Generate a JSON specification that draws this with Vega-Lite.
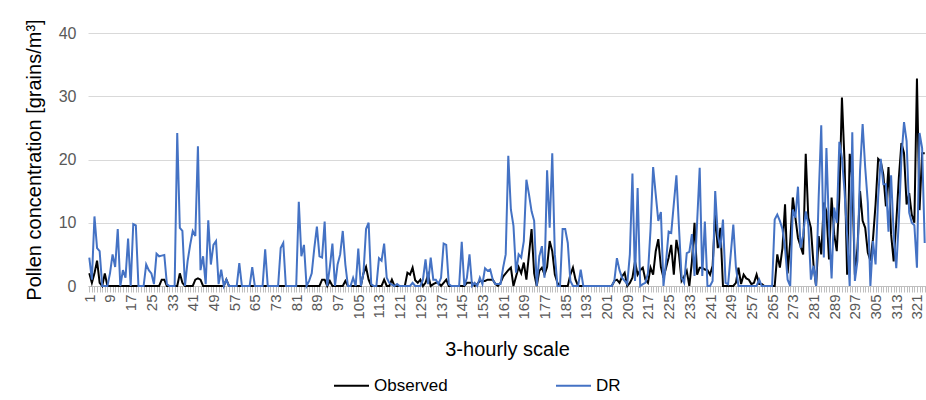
{
"$schema": "https://vega.github.io/schema/vega-lite/v6.json",
"width": 838, "height": 253,
"autosize": "none",
"padding": {"left": 88, "top": 33, "right": 0, "bottom": 114},
"config": {"font": "Liberation Sans", "view": {"stroke": null}},
"data": {"values": [
{"i":1,"Observed":2,"DR":4.5},{"i":2,"Observed":0.5,"DR":1},{"i":3,"Observed":2,"DR":11},{"i":4,"Observed":4,"DR":6},{"i":5,"Observed":0.5,"DR":5.5},{"i":6,"Observed":0,"DR":0},{"i":7,"Observed":2,"DR":0},{"i":8,"Observed":0,"DR":0},{"i":9,"Observed":0,"DR":2},{"i":10,"Observed":0,"DR":5},
{"i":11,"Observed":0,"DR":3},{"i":12,"Observed":0,"DR":9},{"i":13,"Observed":0,"DR":0},{"i":14,"Observed":0,"DR":2.5},{"i":15,"Observed":0,"DR":1.3},{"i":16,"Observed":0,"DR":7.5},{"i":17,"Observed":0,"DR":0},{"i":18,"Observed":0,"DR":9.8},{"i":19,"Observed":0,"DR":9.6},{"i":20,"Observed":0,"DR":0},
{"i":21,"Observed":0,"DR":0},{"i":22,"Observed":0,"DR":0},{"i":23,"Observed":0,"DR":3.4},{"i":24,"Observed":0,"DR":2.5},{"i":25,"Observed":0,"DR":2},{"i":26,"Observed":0,"DR":0.3},{"i":27,"Observed":0,"DR":5.1},{"i":28,"Observed":0,"DR":4.7},{"i":29,"Observed":1,"DR":4.8},{"i":30,"Observed":1,"DR":4.9},
{"i":31,"Observed":0,"DR":0.3},{"i":32,"Observed":0,"DR":0},{"i":33,"Observed":0,"DR":0},{"i":34,"Observed":0,"DR":0},{"i":35,"Observed":0,"DR":24.2},{"i":36,"Observed":2,"DR":9.2},{"i":37,"Observed":0.5,"DR":8.7},{"i":38,"Observed":0,"DR":0},{"i":39,"Observed":0,"DR":3.9},{"i":40,"Observed":0,"DR":6.5},
{"i":41,"Observed":0,"DR":8.7},{"i":42,"Observed":1,"DR":7.9},{"i":43,"Observed":1.2,"DR":22.1},{"i":44,"Observed":1,"DR":2.5},{"i":45,"Observed":0,"DR":4.7},{"i":46,"Observed":0,"DR":0.3},{"i":47,"Observed":0,"DR":10.4},{"i":48,"Observed":0,"DR":3.4},{"i":49,"Observed":0,"DR":6.5},{"i":50,"Observed":0,"DR":7.1},
{"i":51,"Observed":0,"DR":0.3},{"i":52,"Observed":0,"DR":2.6},{"i":53,"Observed":0,"DR":0},{"i":54,"Observed":1,"DR":1},{"i":55,"Observed":0,"DR":0},{"i":56,"Observed":0,"DR":0},{"i":57,"Observed":0,"DR":0},{"i":58,"Observed":0,"DR":0},{"i":59,"Observed":0,"DR":3.6},{"i":60,"Observed":0,"DR":0},
{"i":61,"Observed":0,"DR":0},{"i":62,"Observed":0,"DR":0},{"i":63,"Observed":0,"DR":0},{"i":64,"Observed":0,"DR":3},{"i":65,"Observed":0,"DR":0},{"i":66,"Observed":0,"DR":0},{"i":67,"Observed":0,"DR":0},{"i":68,"Observed":0,"DR":0},{"i":69,"Observed":0,"DR":5.8},{"i":70,"Observed":0,"DR":0},
{"i":71,"Observed":0,"DR":0},{"i":72,"Observed":0,"DR":0},{"i":73,"Observed":0,"DR":0},{"i":74,"Observed":0,"DR":0},{"i":75,"Observed":0,"DR":6},{"i":76,"Observed":0,"DR":6.8},{"i":77,"Observed":0,"DR":0},{"i":78,"Observed":0,"DR":0},{"i":79,"Observed":0,"DR":0},{"i":80,"Observed":0,"DR":0},
{"i":81,"Observed":0,"DR":0},{"i":82,"Observed":0,"DR":13.3},{"i":83,"Observed":0,"DR":4.7},{"i":84,"Observed":0,"DR":6.5},{"i":85,"Observed":0,"DR":0},{"i":86,"Observed":0,"DR":0.8},{"i":87,"Observed":0,"DR":2},{"i":88,"Observed":0,"DR":6},{"i":89,"Observed":0,"DR":9.4},{"i":90,"Observed":0,"DR":4.7},
{"i":91,"Observed":1,"DR":4.5},{"i":92,"Observed":1,"DR":10.2},{"i":93,"Observed":0,"DR":0},{"i":94,"Observed":0.8,"DR":3},{"i":95,"Observed":0,"DR":6.7},{"i":96,"Observed":0,"DR":0},{"i":97,"Observed":0,"DR":3.4},{"i":98,"Observed":0,"DR":5},{"i":99,"Observed":0,"DR":8.7},{"i":100,"Observed":0.8,"DR":3.4},
{"i":101,"Observed":0,"DR":0},{"i":102,"Observed":0,"DR":0},{"i":103,"Observed":0,"DR":1.3},{"i":104,"Observed":0,"DR":0},{"i":105,"Observed":0,"DR":5.9},{"i":106,"Observed":0,"DR":0},{"i":107,"Observed":2,"DR":2},{"i":108,"Observed":3,"DR":9},{"i":109,"Observed":1,"DR":10},{"i":110,"Observed":0,"DR":0.3},
{"i":111,"Observed":0,"DR":0},{"i":112,"Observed":0,"DR":0},{"i":113,"Observed":0,"DR":4.4},{"i":114,"Observed":0,"DR":4},{"i":115,"Observed":1,"DR":6.7},{"i":116,"Observed":0,"DR":1.3},{"i":117,"Observed":0,"DR":0.5},{"i":118,"Observed":1,"DR":0.2},{"i":119,"Observed":0,"DR":0},{"i":120,"Observed":0,"DR":0.3},
{"i":121,"Observed":0,"DR":0},{"i":122,"Observed":0,"DR":0},{"i":123,"Observed":0,"DR":0},{"i":124,"Observed":2.1,"DR":0},{"i":125,"Observed":1.8,"DR":0},{"i":126,"Observed":2.9,"DR":0.5},{"i":127,"Observed":0.9,"DR":0},{"i":128,"Observed":0.5,"DR":0},{"i":129,"Observed":1,"DR":0},{"i":130,"Observed":0,"DR":1},
{"i":131,"Observed":0.5,"DR":4.2},{"i":132,"Observed":1.8,"DR":0.3},{"i":133,"Observed":0,"DR":4.5},{"i":134,"Observed":0.3,"DR":1},{"i":135,"Observed":0.5,"DR":1},{"i":136,"Observed":0.5,"DR":0.3},{"i":137,"Observed":0,"DR":1.3},{"i":138,"Observed":0.5,"DR":6.7},{"i":139,"Observed":1,"DR":6.5},{"i":140,"Observed":0,"DR":0.3},
{"i":141,"Observed":0,"DR":0},{"i":142,"Observed":0,"DR":0},{"i":143,"Observed":0,"DR":0},{"i":144,"Observed":0,"DR":0},{"i":145,"Observed":0,"DR":7},{"i":146,"Observed":0,"DR":0},{"i":147,"Observed":0.5,"DR":1.3},{"i":148,"Observed":0.5,"DR":5},{"i":149,"Observed":0.5,"DR":0},{"i":150,"Observed":0,"DR":0.5},
{"i":151,"Observed":0.3,"DR":0},{"i":152,"Observed":0.8,"DR":1.3},{"i":153,"Observed":0.8,"DR":0.3},{"i":154,"Observed":0.8,"DR":2.8},{"i":155,"Observed":1,"DR":2.4},{"i":156,"Observed":1,"DR":2.6},{"i":157,"Observed":1,"DR":1},{"i":158,"Observed":0.3,"DR":0.3},{"i":159,"Observed":0,"DR":0.3},{"i":160,"Observed":0.5,"DR":0.3},
{"i":161,"Observed":1.5,"DR":2.9},{"i":162,"Observed":2,"DR":5},{"i":163,"Observed":2.5,"DR":20.6},{"i":164,"Observed":2.9,"DR":12.1},{"i":165,"Observed":0,"DR":9.5},{"i":166,"Observed":1.5,"DR":2.1},{"i":167,"Observed":3,"DR":5},{"i":168,"Observed":2,"DR":4.5},{"i":169,"Observed":3.7,"DR":7.1},{"i":170,"Observed":1,"DR":16.8},
{"i":171,"Observed":5,"DR":14.5},{"i":172,"Observed":9,"DR":11.8},{"i":173,"Observed":2,"DR":10.3},{"i":174,"Observed":0,"DR":0},{"i":175,"Observed":2.4,"DR":4.7},{"i":176,"Observed":2.9,"DR":6.3},{"i":177,"Observed":1.8,"DR":1.3},{"i":178,"Observed":3,"DR":18.3},{"i":179,"Observed":7.1,"DR":9.2},{"i":180,"Observed":5.5,"DR":21},
{"i":181,"Observed":1.8,"DR":5},{"i":182,"Observed":0.5,"DR":0},{"i":183,"Observed":0,"DR":0},{"i":184,"Observed":0,"DR":9},{"i":185,"Observed":0,"DR":9},{"i":186,"Observed":0,"DR":6.8},{"i":187,"Observed":1.8,"DR":0.8},{"i":188,"Observed":2.9,"DR":0},{"i":189,"Observed":1,"DR":0},{"i":190,"Observed":0,"DR":0},
{"i":191,"Observed":0,"DR":2.6},{"i":192,"Observed":0,"DR":0},{"i":193,"Observed":0,"DR":0},{"i":194,"Observed":0,"DR":0},{"i":195,"Observed":0,"DR":0},{"i":196,"Observed":0,"DR":0},{"i":197,"Observed":0,"DR":0},{"i":198,"Observed":0,"DR":0},{"i":199,"Observed":0,"DR":0},{"i":200,"Observed":0,"DR":0},
{"i":201,"Observed":0,"DR":0},{"i":202,"Observed":0,"DR":0},{"i":203,"Observed":0,"DR":0},{"i":204,"Observed":0.8,"DR":0.8},{"i":205,"Observed":1,"DR":4.4},{"i":206,"Observed":0.5,"DR":2.5},{"i":207,"Observed":1.5,"DR":1.3},{"i":208,"Observed":2.1,"DR":0.8},{"i":209,"Observed":0,"DR":0.3},{"i":210,"Observed":0.5,"DR":5},
{"i":211,"Observed":1.3,"DR":17.8},{"i":212,"Observed":3.9,"DR":0.8},{"i":213,"Observed":1.8,"DR":15.5},{"i":214,"Observed":2.5,"DR":0},{"i":215,"Observed":2.9,"DR":0.3},{"i":216,"Observed":1,"DR":0.5},{"i":217,"Observed":0.5,"DR":2},{"i":218,"Observed":2.9,"DR":9},{"i":219,"Observed":1.8,"DR":18.8},{"i":220,"Observed":5.5,"DR":14.5},
{"i":221,"Observed":7.4,"DR":10.3},{"i":222,"Observed":3,"DR":11.7},{"i":223,"Observed":1.3,"DR":0},{"i":224,"Observed":2.9,"DR":3.9},{"i":225,"Observed":4.5,"DR":8.6},{"i":226,"Observed":6.5,"DR":8.4},{"i":227,"Observed":1.8,"DR":13},{"i":228,"Observed":7.3,"DR":17.5},{"i":229,"Observed":5,"DR":9.2},{"i":230,"Observed":0.8,"DR":1.3},
{"i":231,"Observed":1.5,"DR":0.5},{"i":232,"Observed":2.4,"DR":5.2},{"i":233,"Observed":0,"DR":5.4},{"i":234,"Observed":3.9,"DR":8.2},{"i":235,"Observed":10,"DR":1.6},{"i":236,"Observed":1.8,"DR":10},{"i":237,"Observed":2.9,"DR":18.7},{"i":238,"Observed":2.9,"DR":1.6},{"i":239,"Observed":2.6,"DR":10.2},{"i":240,"Observed":2.5,"DR":0},
{"i":241,"Observed":1.8,"DR":0},{"i":242,"Observed":3.2,"DR":0.8},{"i":243,"Observed":11.3,"DR":15},{"i":244,"Observed":6,"DR":8},{"i":245,"Observed":9.2,"DR":6},{"i":246,"Observed":0,"DR":10.5},{"i":247,"Observed":0,"DR":0.5},{"i":248,"Observed":0,"DR":0.3},{"i":249,"Observed":0,"DR":5},{"i":250,"Observed":0,"DR":9.7},
{"i":251,"Observed":0.5,"DR":3},{"i":252,"Observed":2.9,"DR":0},{"i":253,"Observed":0.3,"DR":0},{"i":254,"Observed":1.8,"DR":0},{"i":255,"Observed":1.2,"DR":0},{"i":256,"Observed":1,"DR":0},{"i":257,"Observed":0.3,"DR":0},{"i":258,"Observed":0.5,"DR":0},{"i":259,"Observed":1.8,"DR":0},{"i":260,"Observed":0.3,"DR":1},
{"i":261,"Observed":0.3,"DR":0},{"i":262,"Observed":0,"DR":0},{"i":263,"Observed":0,"DR":0},{"i":264,"Observed":0,"DR":0},{"i":265,"Observed":0,"DR":0},{"i":266,"Observed":0,"DR":10.5},{"i":267,"Observed":5,"DR":11.3},{"i":268,"Observed":2.9,"DR":10.3},{"i":269,"Observed":6,"DR":9},{"i":270,"Observed":12.9,"DR":6},
{"i":271,"Observed":2,"DR":1},{"i":272,"Observed":7,"DR":0},{"i":273,"Observed":14,"DR":12.1},{"i":274,"Observed":10.8,"DR":10.8},{"i":275,"Observed":7.6,"DR":15.7},{"i":276,"Observed":6.3,"DR":6},{"i":277,"Observed":5,"DR":8},{"i":278,"Observed":20.9,"DR":11.8},{"i":279,"Observed":10.8,"DR":9.7},{"i":280,"Observed":9.2,"DR":1},
{"i":281,"Observed":3.4,"DR":3.2},{"i":282,"Observed":0,"DR":0},{"i":283,"Observed":7.9,"DR":14},{"i":284,"Observed":5,"DR":25.4},{"i":285,"Observed":13.2,"DR":4.5},{"i":286,"Observed":11.8,"DR":21.8},{"i":287,"Observed":4.2,"DR":9.2},{"i":288,"Observed":14,"DR":1.2},{"i":289,"Observed":8.2,"DR":12.4},{"i":290,"Observed":5.5,"DR":10},
{"i":291,"Observed":14,"DR":22.8},{"i":292,"Observed":29.8,"DR":20.3},{"i":293,"Observed":19.7,"DR":15},{"i":294,"Observed":1.8,"DR":8},{"i":295,"Observed":20.9,"DR":0},{"i":296,"Observed":16.6,"DR":24.3},{"i":297,"Observed":1.8,"DR":0.8},{"i":298,"Observed":6,"DR":4},{"i":299,"Observed":15,"DR":18.2},{"i":300,"Observed":10.3,"DR":25.6},
{"i":301,"Observed":9.2,"DR":18.7},{"i":302,"Observed":5.3,"DR":13.2},{"i":303,"Observed":4,"DR":0},{"i":304,"Observed":7.4,"DR":7.1},{"i":305,"Observed":12.9,"DR":3.4},{"i":306,"Observed":20.1,"DR":14},{"i":307,"Observed":19.7,"DR":20.1},{"i":308,"Observed":17.6,"DR":16.1},{"i":309,"Observed":12.6,"DR":16.1},{"i":310,"Observed":18.8,"DR":8.6},
{"i":311,"Observed":8.2,"DR":17.5},{"i":312,"Observed":3.9,"DR":8.2},{"i":313,"Observed":10,"DR":2.8},{"i":314,"Observed":17.1,"DR":10.3},{"i":315,"Observed":22.6,"DR":20.3},{"i":316,"Observed":21,"DR":25.9},{"i":317,"Observed":12.9,"DR":22.9},{"i":318,"Observed":14.7,"DR":11.6},{"i":319,"Observed":11.3,"DR":10},{"i":320,"Observed":10,"DR":9.6},
{"i":321,"Observed":32.8,"DR":2.9},{"i":322,"Observed":12,"DR":24.2},{"i":323,"Observed":21,"DR":21.8},{"i":324,"Observed":21,"DR":6.8}
]},
"transform": [{"fold": ["Observed", "DR"], "as": ["series", "value"]}],
"mark": {"type": "line", "strokeWidth": 2},
"encoding": {
  "x": {"field": "i", "type": "ordinal", "sort": "ascending",
    "axis": {"title": "3-hourly scale", "titleFontSize": 20, "titleFontWeight": "normal", "titleColor": "#000000", "titlePadding": 20,
      "labelAngle": -90, "labelFontSize": 15, "labelColor": "#595959", "labelPadding": 2,
      "labelExpr": "(datum.value - 1) % 8 == 0 ? datum.label : ''", "labelOverlap": false,
      "domainColor": "#bfbfbf", "tickColor": "#bfbfbf", "tickSize": 6, "grid": false}},
  "y": {"field": "value", "type": "quantitative", "scale": {"domain": [0, 40]},
    "axis": {"title": "Pollen concentration [grains/m³]", "titleFontSize": 20, "titleFontWeight": "normal", "titleColor": "#000000", "titlePadding": 14,
      "values": [0, 10, 20, 30, 40], "labelFontSize": 16, "labelColor": "#595959", "labelPadding": 12,
      "domain": false, "ticks": false, "gridColor": "#d9d9d9"}},
  "color": {"field": "series", "type": "nominal",
    "scale": {"domain": ["Observed", "DR"], "range": ["#000000", "#4472C4"]},
    "legend": {"orient": "none", "legendX": 245, "legendY": 334, "direction": "horizontal", "title": null,
      "symbolType": "stroke", "symbolSize": 1225, "symbolStrokeWidth": 2, "labelFontSize": 17, "labelColor": "#000000",
      "columnPadding": 104}}
}
}
